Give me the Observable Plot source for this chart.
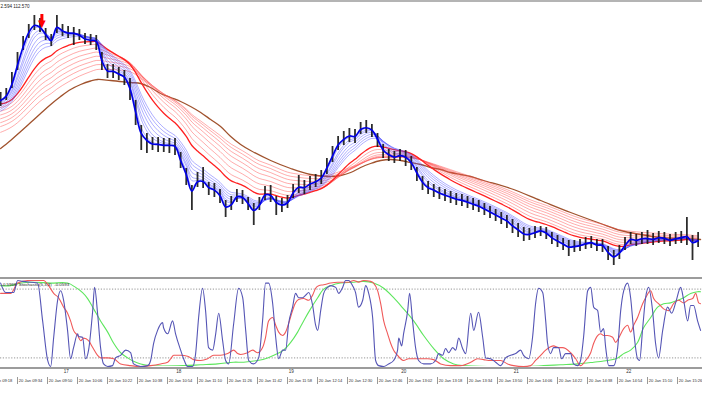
<!DOCTYPE html>
<html><head><meta charset="utf-8">
<script src="https://cdn.jsdelivr.net/npm/d3@7"></script>
<script src="https://cdn.jsdelivr.net/npm/@observablehq/plot@0.6"></script>
<style>
html,body{margin:0;padding:0;background:#fff;width:702px;height:395px;overflow:hidden;font-family:"Liberation Sans",Arial,sans-serif}
#top{border-top:2px solid #b4b4b4;height:275px;overflow:hidden}
#sep{height:0;border-top:2px solid #9c9c9c}
#bot{height:116px;overflow:hidden}
svg{display:block}
</style></head><body>
<div id="top"></div><div id="sep"></div><div id="bot"></div>
<script>
// ---------- price bars (3-minute samples starting 09:25) ----------
const closeP = [112.800,112.810,112.836,112.876,112.912,112.940,112.952,112.946,112.930,112.918,
112.950,112.938,112.934,112.934,112.930,112.922,112.920,112.918,112.874,112.856,
112.858,112.852,112.846,112.820,112.770,112.728,112.718,112.712,112.712,112.710,
112.710,112.708,112.676,112.648,112.614,112.640,112.638,112.624,112.620,112.608,
112.584,112.592,112.610,112.606,112.592,112.578,112.592,112.614,112.610,112.594,
112.590,112.596,112.618,112.628,112.626,112.634,112.638,112.646,112.668,112.692,
112.714,112.724,112.730,112.728,112.744,112.746,112.740,112.720,112.698,112.690,
112.686,112.690,112.686,112.674,112.652,112.634,112.624,112.620,112.614,112.610,
112.606,112.602,112.600,112.596,112.592,112.588,112.582,112.576,112.570,112.564,
112.558,112.548,112.540,112.532,112.532,112.536,112.540,112.534,112.524,112.518,
112.512,112.506,112.508,112.510,112.514,112.516,112.510,112.510,112.494,112.486,
112.496,112.512,112.524,112.520,112.524,112.524,112.522,112.526,112.524,112.520,
112.524,112.526,112.528,112.514,112.520];
const highP = [112.816,112.824,112.856,112.896,112.928,112.952,112.970,112.964,112.944,112.932,
112.970,112.952,112.948,112.946,112.942,112.934,112.932,112.930,112.896,112.872,
112.872,112.866,112.860,112.844,112.800,112.750,112.734,112.726,112.726,112.724,
112.724,112.724,112.696,112.664,112.630,112.656,112.666,112.636,112.634,112.622,
112.600,112.608,112.622,112.620,112.606,112.594,112.606,112.628,112.630,112.608,
112.604,112.610,112.632,112.650,112.640,112.648,112.652,112.660,112.684,112.708,
112.728,112.738,112.744,112.742,112.756,112.760,112.752,112.734,112.712,112.702,
112.698,112.702,112.700,112.688,112.666,112.648,112.638,112.632,112.626,112.622,
112.618,112.614,112.612,112.608,112.604,112.600,112.594,112.588,112.582,112.576,
112.570,112.562,112.554,112.546,112.544,112.548,112.548,112.546,112.536,112.530,
112.524,112.520,112.520,112.522,112.526,112.528,112.522,112.522,112.508,112.500,
112.510,112.526,112.536,112.532,112.536,112.540,112.534,112.538,112.536,112.532,
112.536,112.538,112.566,112.530,112.536];
const lowP = [112.788,112.800,112.824,112.860,112.900,112.924,112.940,112.936,112.920,112.908,
112.934,112.928,112.924,112.910,112.920,112.912,112.910,112.900,112.860,112.844,
112.844,112.840,112.830,112.800,112.750,112.700,112.694,112.700,112.696,112.696,
112.694,112.690,112.664,112.630,112.580,112.626,112.624,112.610,112.606,112.594,
112.566,112.580,112.596,112.592,112.580,112.550,112.580,112.600,112.596,112.570,
112.576,112.584,112.604,112.614,112.612,112.620,112.626,112.632,112.652,112.676,
112.700,112.710,112.716,112.714,112.732,112.734,112.726,112.706,112.684,112.678,
112.674,112.678,112.668,112.660,112.638,112.620,112.612,112.606,112.602,112.598,
112.594,112.590,112.588,112.584,112.580,112.576,112.570,112.564,112.558,112.552,
112.544,112.534,112.526,112.518,112.520,112.524,112.528,112.522,112.512,112.506,
112.500,112.488,112.496,112.498,112.502,112.504,112.498,112.496,112.480,112.470,
112.482,112.500,112.512,112.508,112.512,112.512,112.510,112.514,112.512,112.508,
112.512,112.514,112.510,112.480,112.506];
const barTime = closeP.map((_, i) => 25 + 3 * i); // minutes after 09:00

// ---------- moving-average ribbons (periods in 1-minute bars, start values read at left edge) ----------
const bluePeriods = [3, 5, 8, 10, 13, 16, 19, 22];
const blueStart   = [112.800, 112.796, 112.792, 112.788, 112.784, 112.780, 112.776, 112.772];
const redPeriods  = [35, 42, 50, 58, 66, 74, 82, 90];
const redStart    = [112.792, 112.784, 112.776, 112.768, 112.760, 112.752, 112.744, 112.732];

// ---------- long (brown) average ----------
const brownTime = [25,30.3,35.7,41,46.3,51.7,57,62.3,67.7,73,76.7,83.7,94.3,99.7,105,110.3,115.7,121,126.3,131.7,137,142.3,147.7,153,158.3,169,179.7,190.3,201,206.3,211.7,217,222.3,227.7,233,238.3,243.7,249,254.3,259.7,265,270.3,275.7,282.6,297,313,329,345,355.7,366.3,377,387.7,398.3];
const brownPrice = [112.704,112.720,112.738,112.756,112.774,112.792,112.808,112.822,112.832,112.839,112.842,112.840,112.836,112.834,112.826,112.814,112.806,112.798,112.788,112.776,112.762,112.748,112.728,112.712,112.700,112.680,112.664,112.652,112.648,112.650,112.656,112.666,112.674,112.680,112.682,112.680,112.676,112.672,112.666,112.662,112.656,112.652,112.648,112.640,112.624,112.600,112.576,112.554,112.540,112.532,112.526,112.524,112.522];

// ---------- signal arrow ----------
const arrowTime = [47];
const arrowTop = [112.972];

// ---------- oscillator lines [minute, value] ----------
const oscBlue = [[25,97],[27.7,86],[31.9,86],[34.1,100],[36.7,99],[44.7,97],[47.4,53],[50.1,7],[51.7,0],[53.3,34],[55.4,77],[57,88],[58.6,77],[60.7,42],[62.3,9],[63.9,22],[66.1,38],[66.6,35],[68.7,34],[70.3,9],[71.9,19],[74.1,65],[75.1,92],[76.7,62],[78.3,22],[79.9,3],[82.1,0],[84.7,1],[86.3,10],[89,13],[91.7,19],[94.3,16],[95.9,3],[99.7,0],[103.4,1],[105,7],[106.6,27],[108.7,42],[111.4,51],[111.9,45],[114.1,38],[116.7,53],[118.3,38],[121,19],[122.6,9],[124.7,0],[127.4,0],[129,15],[130.6,57],[132.7,91],[134.3,65],[135.9,22],[138.1,19],[139.7,38],[141.3,62],[143.4,30],[145,7],[146.6,3],[149.3,50],[151.9,91],[154.1,80],[155.7,42],[157.3,7],[159.9,3],[162.6,10],[164.7,53],[166.3,97],[167.9,97],[170.1,73],[171.7,34],[173.3,9],[175.4,19],[177,19],[178.6,50],[180.7,69],[182.3,85],[183.9,80],[186.1,80],[187.7,83],[189.3,86],[191.4,71],[193,48],[194.1,42],[195.7,65],[197.3,85],[199.4,92],[201,94],[203.7,92],[205.3,85],[207.4,92],[209,100],[210.6,100],[212.7,94],[214.3,86],[215.9,69],[218.1,77],[219.7,94],[221.3,85],[223.4,57],[225,7],[226.6,1],[229.3,0],[231.9,3],[234.6,7],[236.7,19],[237.3,33],[238.9,24],[239.9,38],[242.1,65],[243.1,85],[244.7,53],[246.3,22],[247.9,7],[250.6,3],[254.3,3],[257,7],[258.6,15],[260.7,13],[262.3,21],[263.9,16],[266.1,22],[267.7,19],[269.3,33],[271.4,21],[273,15],[275.7,62],[277.3,42],[279.9,63],[282.1,34],[283.7,10],[286.3,9],[289,5],[291.7,1],[294.3,10],[297,13],[299.7,15],[302.3,19],[303.9,13],[306.6,9],[308.7,34],[310.3,73],[311.9,91],[314.1,86],[315.7,53],[316.7,27],[318.3,15],[319.9,22],[322.6,22],[324.2,9],[326.3,15],[329,15],[330.6,3],[332.7,1],[334.3,7],[335.9,34],[338.1,88],[339.7,92],[341.3,69],[343.4,65],[345,40],[346.6,44],[347.7,22],[349.3,1],[351.9,1],[354.1,22],[355.7,65],[357.3,88],[359.4,97],[361,80],[362.6,42],[364.7,9],[365.8,7],[367.4,44],[369,80],[370.6,92],[372.7,65],[374.3,27],[375.9,10],[378.1,42],[380.7,69],[382.9,62],[385,74],[387.7,92],[389.3,77],[391.4,53],[393,71],[394.6,71],[396.7,53],[398.3,42]];
const oscRed = [[25,85],[30.3,85],[34.1,97],[39.4,100],[47.9,100],[50.6,94],[53.3,85],[55.9,80],[58.6,69],[60.7,62],[62.3,53],[63.9,42],[66.1,36],[67.7,30],[69.3,33],[71.9,30],[74.1,22],[76.7,13],[78.3,10],[82.1,10],[85.3,9],[89,3],[94.3,1],[99.7,0],[105,1],[110.3,3],[114.1,5],[115.7,9],[117.3,13],[121,13],[124.7,12],[127.9,8],[131.7,7],[135.4,9],[138.6,13],[142.3,13],[146.1,15],[149.3,19],[151.4,15],[153,14],[156.7,16],[159.4,19],[162.1,16],[164.7,22],[166.3,34],[167.9,53],[170.1,57],[171.7,48],[173.3,40],[175.4,36],[177,40],[178.6,50],[180.7,65],[182.3,74],[183.9,78],[186.6,79],[189.3,77],[191.4,83],[193,91],[194.6,94],[197.3,95],[201,97],[204.7,98],[210.6,98],[213.3,100],[215.9,98],[218.6,100],[222.3,99],[223.9,97],[226.1,88],[227.7,73],[229.3,53],[231.4,38],[233,27],[234.6,19],[236.7,13],[238.3,9],[239.9,7],[242.6,9],[247.4,9],[252.7,9],[255.9,8],[259.7,3],[265,1],[270.3,1],[275.7,5],[279.4,9],[282.6,8],[286.3,7],[291.7,7],[295.4,3],[298.6,1],[303.9,0],[307.7,1],[310.3,7],[313,13],[315.7,19],[318.3,23],[319.9,24],[322.6,22],[324.7,22],[326.3,21],[329,16],[331.7,9],[334.3,1],[337,7],[339.7,16],[341.3,27],[343.4,36],[345,38],[346.6,36],[348.7,36],[351.4,34],[353,28],[354.6,33],[357.3,44],[359.4,48],[361,40],[362.6,48],[364.7,57],[367.4,73],[369,80],[371.7,88],[373.3,79],[375.9,73],[378.6,67],[381.3,65],[383.9,73],[386.6,77],[389.3,74],[391.4,77],[394.1,79],[395.7,85],[397.3,74],[398.3,73]];
const oscGreen = [[25,94],[30.3,94],[35.7,97],[42.6,98],[51.7,97],[60.7,97],[65,92],[68.7,86],[71.4,79],[74.6,67],[78.3,53],[82.1,40],[85.3,27],[89,16],[92.7,10],[95.9,6],[99.7,3],[105,1],[122.6,1],[131.7,2],[140.7,3],[149.3,5],[154.6,5],[162.1,7],[167.4,10],[172.7,15],[175.9,19],[179.7,28],[183.4,40],[186.6,53],[190.3,67],[194.1,80],[197.3,90],[201,94],[206.3,97],[213.3,98],[218.6,99],[223.9,97],[229.3,91],[234.6,80],[239.9,67],[245.3,53],[250.6,36],[255.9,21],[261.3,9],[266.6,3],[271.9,1],[287.9,0],[306,0],[314.6,1],[323.7,2],[332.7,3],[341.3,5],[348.7,7],[354.1,10],[357.3,15],[361,19],[364.7,28],[367.9,45],[371.7,57],[375.4,69],[378.6,73],[382.3,74],[386.1,77],[389.3,80],[393,85],[396.7,87],[398.3,87]];
const oscLevels = [10, 90];

// ---------- axis labels ----------
const timeTicks = [18,34,50,66,82,98,114,130,146,162,178,194,210,226,242,258,274,290,306,322,338,354,370,386];
const timeLabels = ["20 Jan 09:18","20 Jan 09:34","20 Jan 09:50","20 Jan 10:06","20 Jan 10:22","20 Jan 10:38","20 Jan 10:54","20 Jan 11:10","20 Jan 11:26","20 Jan 11:42","20 Jan 11:58","20 Jan 12:14","20 Jan 12:30","20 Jan 12:46","20 Jan 13:02","20 Jan 13:18","20 Jan 13:34","20 Jan 13:50","20 Jan 14:06","20 Jan 14:22","20 Jan 14:38","20 Jan 14:54","20 Jan 15:10","20 Jan 15:26"];
const hourTicks = [60,120,180,240,300,360];
const hourLabels = ["17","18","19","20","21","22"];
const priceInfo = ["2.594 112.570"];
const oscInfo = ["-0.5968  Stochastic(5,3,3)  -0.0593"];

// ---------- build ----------
function ema(src, period, start) {
  const a = 1 - Math.pow(1 - 2 / (period + 1), 3); // 3 one-minute bars per sample
  let e = start;
  return src.map(v => (e += a * (v - e)));
}
function ribbon(periods, starts) {
  return periods.flatMap((p, k) => ema(closeP, p, starts[k]).map((v, i) => ({t: barTime[i], v, k})));
}
const blueRows = ribbon(bluePeriods, blueStart);
const redRows = ribbon(redPeriods, redStart);
const bars = closeP.map((c, i) => ({t: barTime[i], c, h: highP[i], l: lowP[i]}));
const brown = brownTime.map((t, i) => ({t, v: brownPrice[i]}));
const xDomain = [24.93, 399.33];
const font = "Liberation Sans, Arial, sans-serif";

const main = Plot.plot({
  width: 702, height: 275,
  marginTop: 0, marginBottom: 0, marginLeft: 0, marginRight: 0,
  style: {fontFamily: font, background: "#fff"},
  x: {domain: xDomain, axis: null},
  y: {domain: [112.446, 112.996], axis: null},
  marks: [
    Plot.line(brown, {x: "t", y: "v", stroke: "#a0522d", strokeWidth: 1.3, curve: "catmull-rom"}),
    Plot.line(redRows.filter(d => d.k > 0), {x: "t", y: "v", z: "k", stroke: "#ff5050", strokeOpacity: 0.6, strokeWidth: 0.8, curve: "catmull-rom"}),
    Plot.line(redRows.filter(d => d.k === 0), {x: "t", y: "v", stroke: "#ff2020", strokeWidth: 1.3, curve: "catmull-rom"}),
    Plot.line(blueRows.filter(d => d.k > 0), {x: "t", y: "v", z: "k", stroke: "#4848ff", strokeOpacity: 0.55, strokeWidth: 0.8, curve: "catmull-rom"}),
    Plot.ruleX(bars, {x: "t", y1: "l", y2: "h", stroke: "#151515", strokeWidth: 1.8, strokeOpacity: 0.9}),
    Plot.line(blueRows.filter(d => d.k === 0), {x: "t", y: "v", stroke: "#0000e6", strokeWidth: 1.7, curve: "catmull-rom"}),
    Plot.ruleX(arrowTime, {x: d => d, y1: (d, i) => arrowTop[i], y2: (d, i) => arrowTop[i] - 0.016, stroke: "#ff0000", strokeWidth: 3}),
    Plot.text(arrowTime, {x: d => d, y: (d, i) => arrowTop[i] - 0.019, text: () => "\u25BC", fill: "#ff0000", fontSize: 10, fontFamily: "DejaVu Sans"}),
    Plot.text(priceInfo, {text: d => d, frameAnchor: "top-left", textAnchor: "start", lineAnchor: "top", dy: 2, fontSize: 4.6, fill: "#222"})
  ]
});
document.getElementById("top").appendChild(main);

const bot = Plot.plot({
  width: 702, height: 116,
  marginTop: 1, marginBottom: 29, marginLeft: 0, marginRight: 0,
  style: {fontFamily: font, background: "#fff"},
  x: {domain: xDomain, axis: null},
  y: {domain: [0, 100], axis: null},
  marks: [
    Plot.ruleY(oscLevels, {stroke: "#7a7a7a", strokeWidth: 0.8, strokeDasharray: "1.2,1.6"}),
    Plot.line(oscGreen, {x: d => d[0], y: d => d[1], stroke: "#5ee65e", strokeWidth: 1.1, curve: "catmull-rom", clip: true}),
    Plot.line(oscRed, {x: d => d[0], y: d => d[1], stroke: "#f05a5a", strokeWidth: 1.1, curve: "monotone-x"}),
    Plot.line(oscBlue, {x: d => d[0], y: d => d[1], stroke: "#5555b5", strokeWidth: 1.1, curve: "monotone-x"}),
    Plot.ruleY([0], {dy: 1.5, stroke: "#9c9c9c", strokeWidth: 2}),
    Plot.text(oscInfo, {text: d => d, frameAnchor: "top-left", textAnchor: "start", lineAnchor: "top", dy: 2, dx: 1, fontSize: 4.4, fill: "#222"}),
    Plot.text(hourTicks, {x: d => d, text: (d, i) => hourLabels[i], frameAnchor: "bottom", dy: 6, fontSize: 4.6, fill: "#333"}),
    Plot.tickX(timeTicks, {x: d => d, insetTop: 97, insetBottom: -18, stroke: "#555", strokeWidth: 0.6}),
    Plot.text(timeTicks, {x: d => d, text: (d, i) => timeLabels[i], frameAnchor: "bottom", dy: 15.5, dx: 1.2, textAnchor: "start", fontSize: 4.1, fill: "#333"})
  ]
});
document.getElementById("bot").appendChild(bot);
</script></body></html>
